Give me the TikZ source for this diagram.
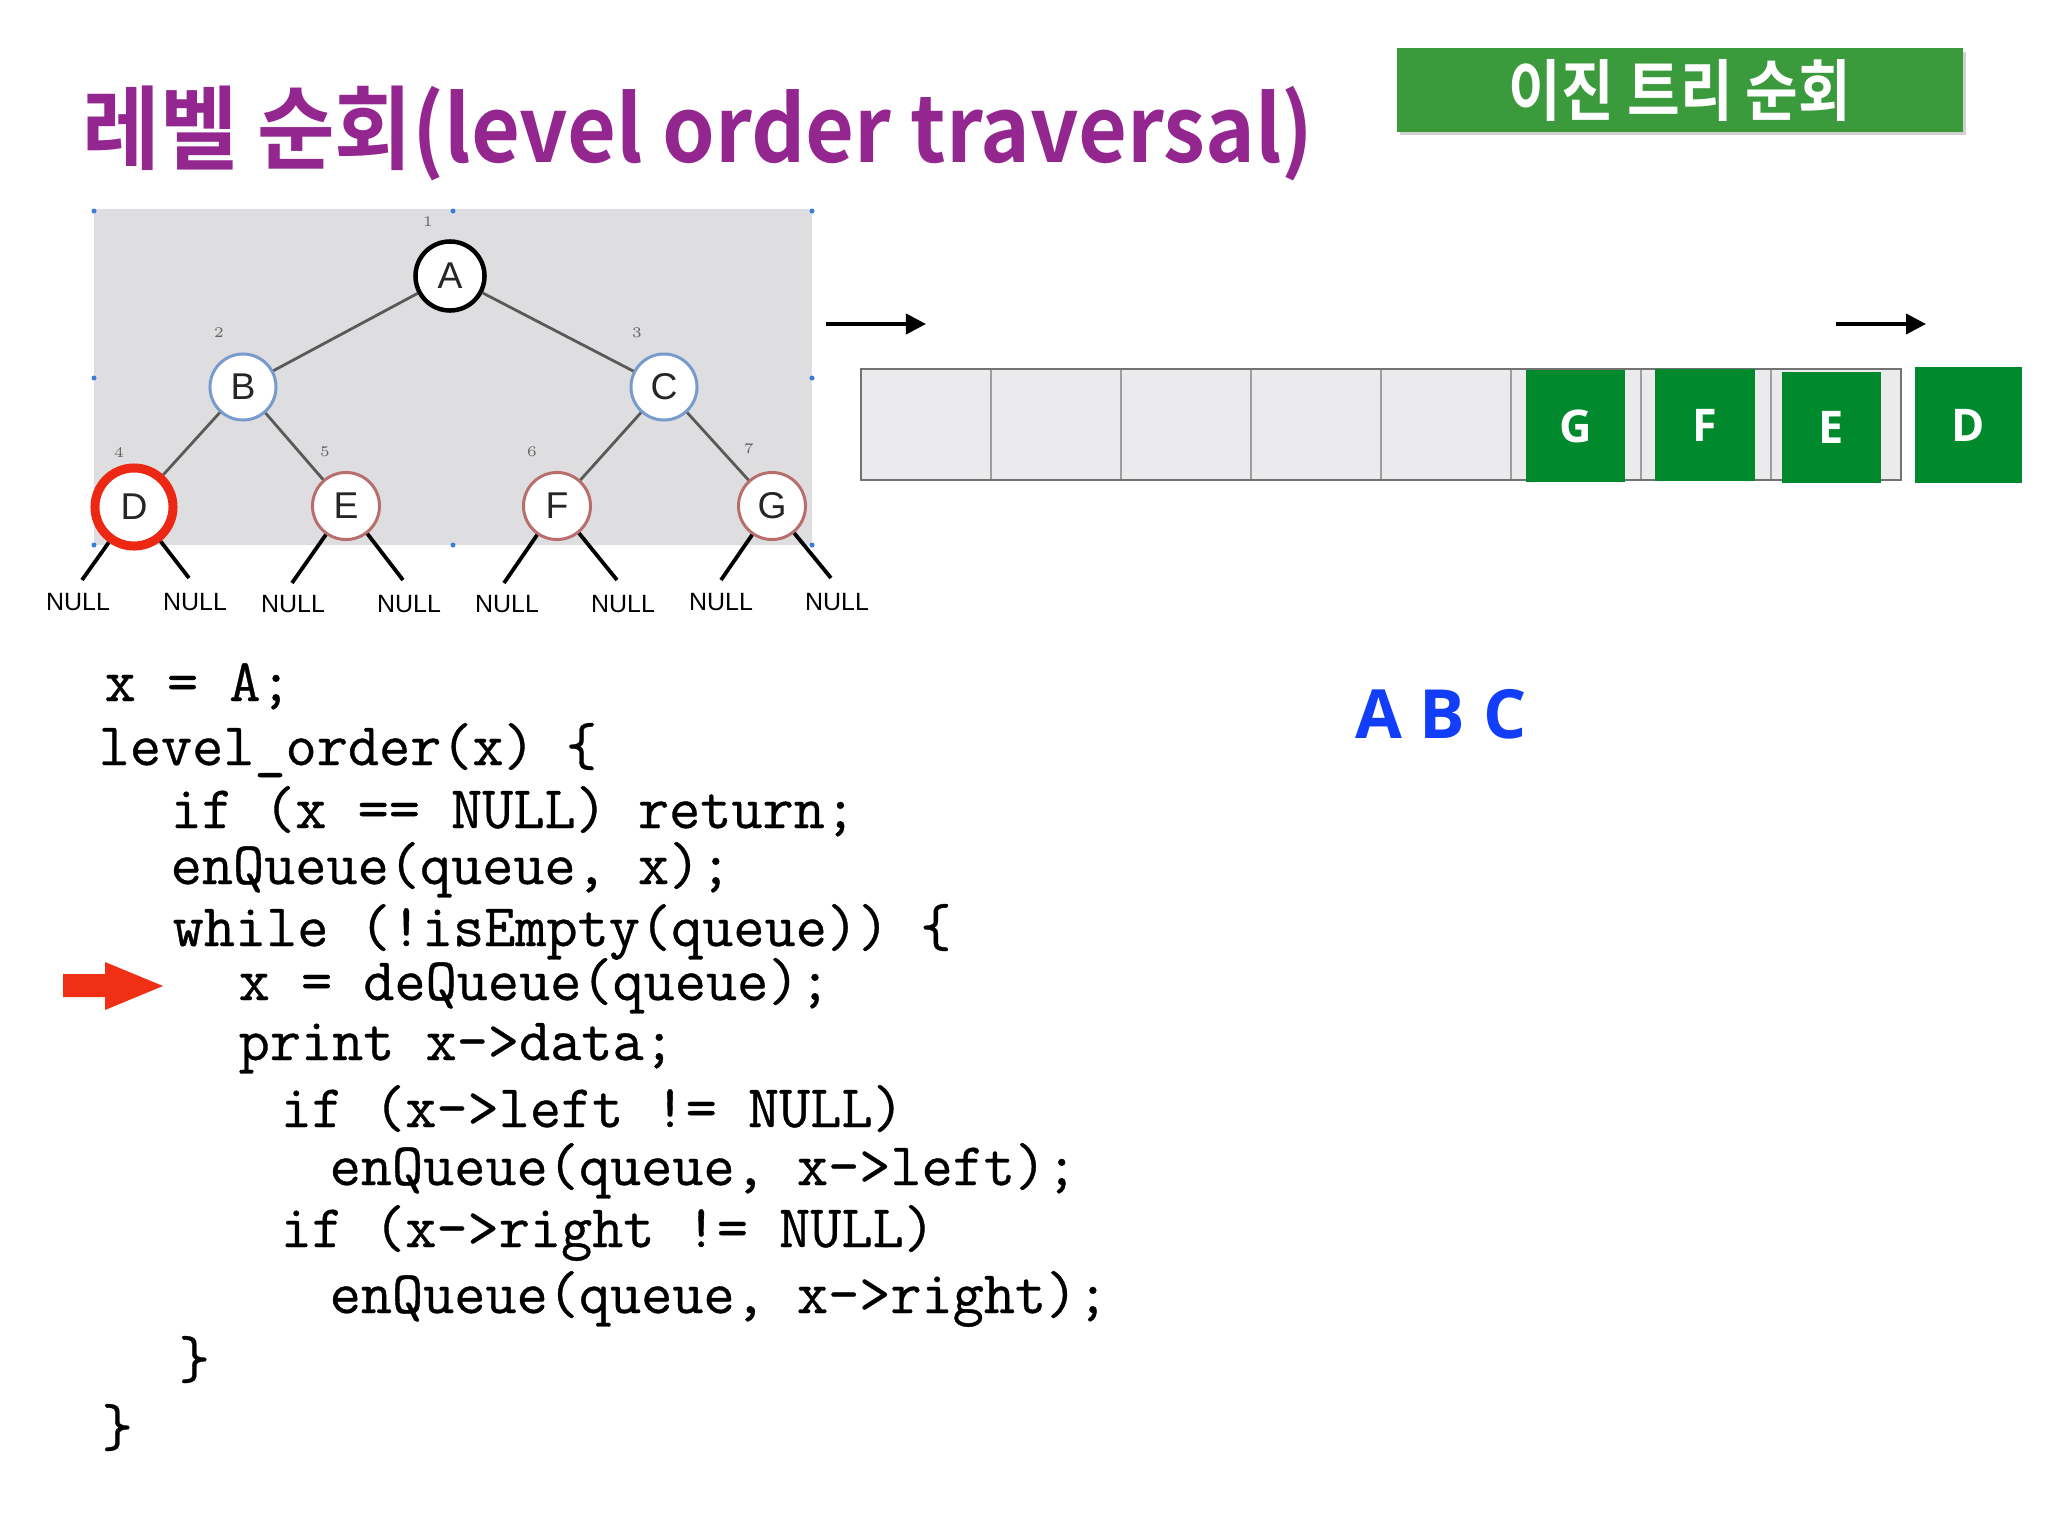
\documentclass[tikz,border=0pt]{standalone}
\usepackage{fontspec}
\usepackage{graphicx}
\usetikzlibrary{arrows.meta}
\newfontfamily\krfont{Noto Sans CJK KR}[BoldFont={* Bold}]
\newfontfamily\osfont{Open Sans}[BoldFont={* Bold}]
\newfontfamily\lsfont{Liberation Sans}
\newfontfamily\codefont{Latin Modern Mono}[FakeBold=0.6]
\definecolor{titlepurple}{RGB}{147,39,143}
\definecolor{hdrgreen}{RGB}{58,154,60}
\definecolor{qgreen}{RGB}{0,137,45}
\definecolor{abcblue}{RGB}{18,62,250}
\definecolor{arrowred}{RGB}{240,48,20}
\definecolor{ringred}{RGB}{236,40,20}
\definecolor{treebg}{RGB}{222,222,224}
\definecolor{qbg}{RGB}{235,234,237}
\definecolor{bluering}{RGB}{120,155,205}
\definecolor{pinkring}{RGB}{185,110,110}
\definecolor{handleblue}{RGB}{60,125,220}
\tikzset{
  tnode/.style={circle, fill=white, inner sep=0pt, text=black!85,
    font=\lsfont\fontsize{10.6}{12}\selectfont},
  tedge/.style={draw=black!65, line width=0.028cm},
  nulledge/.style={draw=black, line width=0.038cm},
  nulllbl/.style={inner sep=0pt, font=\lsfont\fontsize{7.1}{8}\selectfont},
  numlbl/.style={inner sep=0pt, text=black!60, font=\fontsize{4.2}{5}\selectfont},
  qbox/.style={fill=qgreen, inner sep=0pt, text=white,
    font=\osfont\bfseries\fontsize{12.8}{14}\selectfont},
  qarrow/.style={draw=black, line width=0.04cm, -{Triangle[length=0.2cm,width=0.2cm]}},
  codeline/.style={anchor=base west, inner sep=0pt,
    font=\codefont\fontsize{17.2}{20}\selectfont},
}
\begin{document}
\begin{tikzpicture}[x=0.01cm,y=-0.01cm]
\useasboundingbox (0,0) rectangle (2048,1536);
\fill[white] (0,0) rectangle (2048,1536);

% title
\node[anchor=west, inner sep=0pt, text=titlepurple] (title) at (82,133)
  {\resizebox{12.3cm}{\height}{\krfont\bfseries\fontsize{26}{30}\selectfont 레벨 순회(level order traversal)}};

% header box
\fill[black, opacity=0.18] (1400,52) rectangle (1966,135);
\node[fill=hdrgreen, minimum width=5.65cm, minimum height=0.83cm, inner sep=0pt, text=white] (hdr) at (1680,90)
  {\resizebox{3.42cm}{\height}{\krfont\bfseries\fontsize{19}{22}\selectfont 이진 트리 순회}};

% tree background
\fill[treebg] (94,209) rectangle (812,545);
\foreach \hx/\hy in {94/211,453/211,812/211,94/378,812/378,94/545,453/545,812/545}
  \fill[handleblue] (\hx,\hy) circle (0.025cm);

% tree nodes
\node[tnode, draw=black, line width=0.045cm, minimum size=0.69cm] (A) at (450,276) {A};
\node[tnode, draw=bluering, line width=0.03cm, minimum size=0.66cm] (B) at (243,387) {B};
\node[tnode, draw=bluering, line width=0.03cm, minimum size=0.66cm] (C) at (664,387) {C};
\node[tnode, draw=pinkring, line width=0.03cm, minimum size=0.67cm] (E) at (346,506) {E};
\node[tnode, draw=pinkring, line width=0.03cm, minimum size=0.67cm] (F) at (557,506) {F};
\node[tnode, draw=pinkring, line width=0.03cm, minimum size=0.67cm] (G) at (772,506) {G};
\node[tnode, draw=ringred, line width=0.09cm, minimum size=0.78cm] (D) at (134,507) {D};

\draw[tedge] (A) -- (B);
\draw[tedge] (A) -- (C);
\draw[tedge] (B) -- (D);
\draw[tedge] (B) -- (E);
\draw[tedge] (C) -- (F);
\draw[tedge] (C) -- (G);

% number labels
\node[numlbl] (n1) at (428,222) {1};
\node[numlbl] (n2) at (219,333) {2};
\node[numlbl] (n3) at (637,333) {3};
\node[numlbl] (n4) at (119,452) {4};
\node[numlbl] (n5) at (325,452) {5};
\node[numlbl] (n6) at (532,452) {6};
\node[numlbl] (n7) at (749,449) {7};

% NULL children
\coordinate (Dl) at (82,580);  \coordinate (Dr) at (189,578);
\coordinate (El) at (292,583); \coordinate (Er) at (403,580);
\coordinate (Fl) at (504,583); \coordinate (Fr) at (617,580);
\coordinate (Gl) at (721,580); \coordinate (Gr) at (831,578);
\draw[nulledge] (D) -- (Dl);
\draw[nulledge] (D) -- (Dr);
\draw[nulledge] (E) -- (El);
\draw[nulledge] (E) -- (Er);
\draw[nulledge] (F) -- (Fl);
\draw[nulledge] (F) -- (Fr);
\draw[nulledge] (G) -- (Gl);
\draw[nulledge] (G) -- (Gr);
\node[nulllbl] (ND1) at (78,602) {NULL};
\node[nulllbl] (ND2) at (195,602) {NULL};
\node[nulllbl] (NE1) at (293,604) {NULL};
\node[nulllbl] (NE2) at (409,604) {NULL};
\node[nulllbl] (NF1) at (507,604) {NULL};
\node[nulllbl] (NF2) at (623,604) {NULL};
\node[nulllbl] (NG1) at (721,602) {NULL};
\node[nulllbl] (NG2) at (837,602) {NULL};

% queue arrows
\coordinate (qa1s) at (826,324); \coordinate (qa1e) at (926,324);
\coordinate (qa2s) at (1836,324); \coordinate (qa2e) at (1926,324);
\draw[qarrow] (qa1s) -- (qa1e);
\draw[qarrow] (qa2s) -- (qa2e);

% queue
\fill[qbg] (861,369) rectangle (1901,480);
\foreach \qx in {991,1121,1251,1381,1511,1641,1771}
  \draw[black!38, line width=0.015cm] (\qx,369) -- (\qx,480);
\draw[black!55, line width=0.025cm] (861,369) rectangle (1901,480);
\node[qbox, minimum width=0.99cm, minimum height=1.12cm] (qG) at (1575.5,426) {G};
\node[qbox, minimum width=1.00cm, minimum height=1.12cm] (qF) at (1705,425) {F};
\node[qbox, minimum width=0.99cm, minimum height=1.11cm] (qE) at (1831.5,427.5) {E};
\node[qbox, minimum width=1.07cm, minimum height=1.16cm] (qD) at (1968.5,425) {D};

% output
\node[inner sep=0pt, text=abcblue, font=\osfont\bfseries\fontsize{19.3}{22}\selectfont] (abc) at (1441,714) {A B C};

% code
\node[codeline] (c1) at (104,701) {x = A;};
\node[codeline] (c2) at (98,765) {level\_order(x) \{};
\node[codeline] (c3) at (170,828) {if (x == NULL) return;};
\node[codeline] (c4) at (170,884) {enQueue(queue, x);};
\node[codeline] (c5) at (172,946) {while (!isEmpty(queue)) \{};
\node[codeline] (c6) at (238,1000) {x = deQueue(queue);};
\node[codeline] (c7) at (238,1060) {print x->data;};
\node[codeline] (c8) at (280,1127) {if (x->left != NULL)};
\node[codeline] (c9) at (329,1185) {enQueue(queue, x->left);};
\node[codeline] (c10) at (280,1247) {if (x->right != NULL)};
\node[codeline] (c11) at (329,1313) {enQueue(queue, x->right);};
\node[codeline] (c12) at (178,1378) {\}};
\node[codeline] (c13) at (101,1446) {\}};

% red pointer arrow
\fill[arrowred] (63,974) -- (105,974) -- (105,962) -- (163,986) -- (105,1010) -- (105,997) -- (63,997) -- cycle;
\end{tikzpicture}
\end{document}
